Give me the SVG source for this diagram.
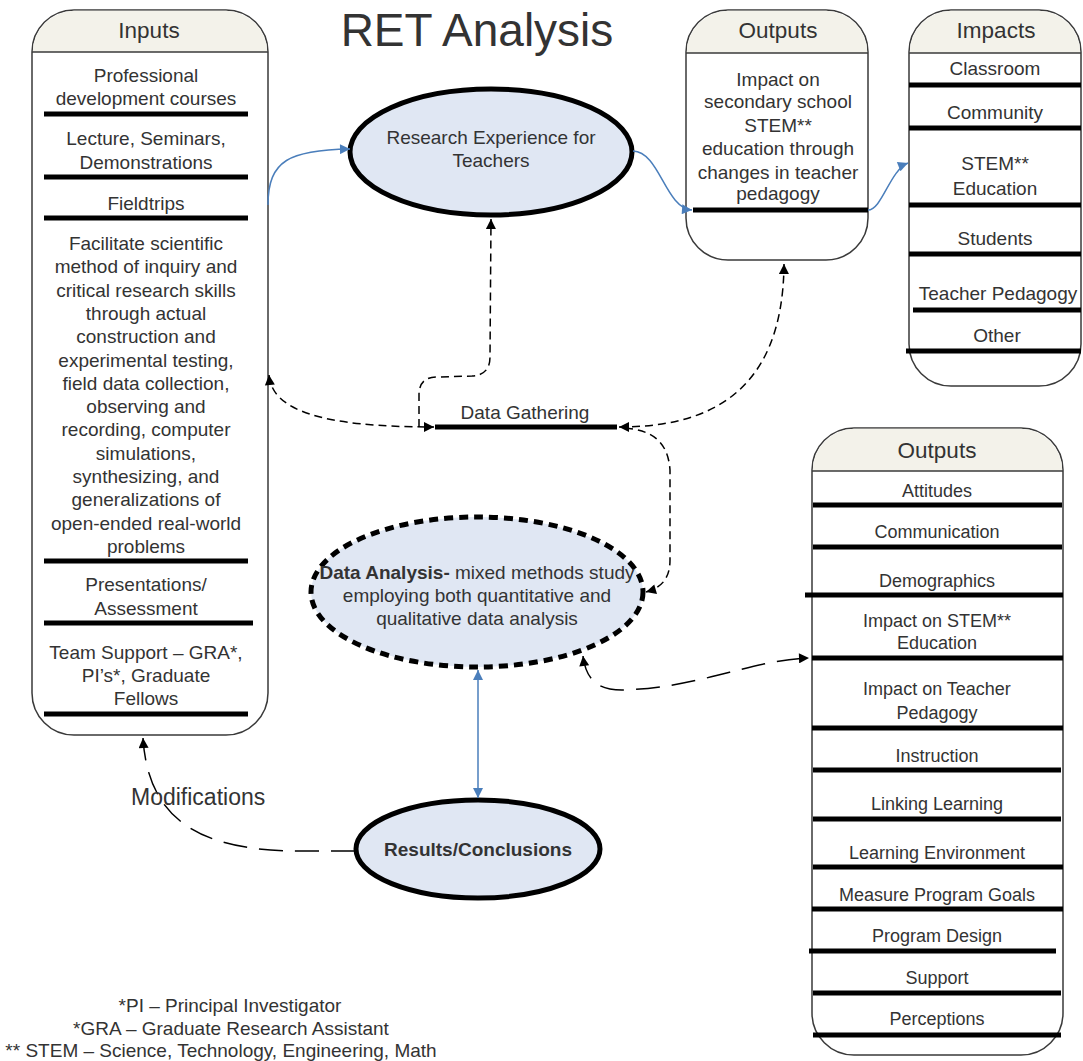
<svg xmlns="http://www.w3.org/2000/svg" width="1083" height="1061" viewBox="0 0 1083 1061">
<defs>
<style>
text{font-family:"Liberation Sans",Arial,sans-serif;fill:#333;font-size:19px;text-anchor:middle}
.ttl{font-size:22.5px}
.box{fill:#fff;stroke:#3a3a3a;stroke-width:1.5}
.hdr{fill:#f3f2ea;stroke:none}
.sep{stroke:#3a3a3a;stroke-width:1.5}
.bar{stroke:#000;stroke-width:5}
.ell{fill:#e0e7f3;stroke:#000;stroke-width:5}
.blue{fill:none;stroke:#4a7ebb;stroke-width:1.5}
.dsh{fill:none;stroke:#000;stroke-width:1.5;stroke-dasharray:8 5}
.ldsh{fill:none;stroke:#000;stroke-width:1.5;stroke-dasharray:24 12}
</style>
<marker id="ab" viewBox="0 0 10 10" refX="10" refY="5" markerWidth="13" markerHeight="10" markerUnits="userSpaceOnUse" orient="auto-start-reverse"><path d="M0,0 L10,5 L0,10 z" fill="#000"/></marker>
<marker id="abl" viewBox="0 0 10 10" refX="10" refY="5" markerWidth="14" markerHeight="10" markerUnits="userSpaceOnUse" orient="auto-start-reverse"><path d="M0,0 L10,5 L0,10 z" fill="#4a7ebb"/></marker>
</defs>
<rect width="1083" height="1061" fill="#fff"/>

<text x="477" y="46" style="font-size:46px">RET Analysis</text>

<g id="inputs">
<path class="box" d="M32,52 L32,693 A42,42 0 0 0 74,735 L226,735 A42,42 0 0 0 268,693 L268,52 A42,42 0 0 0 226,10 L74,10 A42,42 0 0 0 32,52 Z"/>
<path class="hdr" d="M32.8,52 A42,42 0 0 1 74,10.8 L226,10.8 A42,42 0 0 1 267.2,52 Z"/>
<line class="sep" x1="32" y1="52" x2="268" y2="52"/>
<text class="ttl" x="149" y="38">Inputs</text>
<text x="146" y="82">Professional</text>
<text x="146" y="105">development courses</text>
<line class="bar" x1="44" y1="114" x2="248" y2="114"/>
<text x="146" y="145">Lecture, Seminars,</text>
<text x="146" y="169">Demonstrations</text>
<line class="bar" x1="44" y1="177" x2="248" y2="177"/>
<text x="146" y="210">Fieldtrips</text>
<line class="bar" x1="44" y1="218" x2="248" y2="218"/>
<text x="146" y="250">Facilitate scientific</text>
<text x="146" y="273">method of inquiry and</text>
<text x="146" y="297">critical research skills</text>
<text x="146" y="320">through actual</text>
<text x="146" y="343">construction and</text>
<text x="146" y="367">experimental testing,</text>
<text x="146" y="390">field data collection,</text>
<text x="146" y="413">observing and</text>
<text x="146" y="436">recording, computer</text>
<text x="146" y="460">simulations,</text>
<text x="146" y="483">synthesizing, and</text>
<text x="146" y="506">generalizations of</text>
<text x="146" y="530">open-ended real-world</text>
<text x="146" y="553">problems</text>
<line class="bar" x1="44" y1="561" x2="248" y2="561"/>
<text x="146" y="591">Presentations/</text>
<text x="146" y="615">Assessment</text>
<line class="bar" x1="44" y1="623" x2="253" y2="623"/>
<text x="146" y="659">Team Support – GRA*,</text>
<text x="146" y="682">PI’s*, Graduate</text>
<text x="146" y="705">Fellows</text>
<line class="bar" x1="44" y1="714" x2="248" y2="714"/>
</g>

<g id="research">
<ellipse class="ell" cx="491" cy="152" rx="141" ry="63"/>
<text x="491" y="144">Research Experience for</text>
<text x="491" y="167">Teachers</text>
</g>

<g id="outputs-top">
<path class="box" d="M686,52 L686,218 A42,42 0 0 0 728,260 L826,260 A42,42 0 0 0 868,218 L868,52 A42,42 0 0 0 826,10 L728,10 A42,42 0 0 0 686,52 Z"/>
<path class="hdr" d="M686.8,53 A42,42 0 0 1 728,10.8 L826,10.8 A42,42 0 0 1 867.2,53 Z"/>
<line class="sep" x1="686" y1="53" x2="868" y2="53"/>
<text class="ttl" x="778" y="38">Outputs</text>
<text x="778" y="86">Impact on</text>
<text x="778" y="108">secondary school</text>
<text x="778" y="132">STEM**</text>
<text x="778" y="155">education through</text>
<text x="778" y="179">changes in teacher</text>
<text x="778" y="200">pedagogy</text>
<line class="bar" x1="693" y1="210" x2="868" y2="210"/>
</g>

<g id="impacts">
<path class="box" d="M909,52 L909,344 A42,42 0 0 0 951,386 L1039,386 A42,42 0 0 0 1081,344 L1081,52 A42,42 0 0 0 1039,10 L951,10 A42,42 0 0 0 909,52 Z"/>
<path class="hdr" d="M909.8,53 A42,42 0 0 1 951,10.8 L1039,10.8 A42,42 0 0 1 1080.2,53 Z"/>
<line class="sep" x1="909" y1="53" x2="1081" y2="53"/>
<text class="ttl" x="996" y="38">Impacts</text>
<text x="995" y="75">Classroom</text>
<line class="bar" x1="909" y1="85" x2="1081" y2="85"/>
<text x="995" y="119">Community</text>
<line class="bar" x1="909" y1="128" x2="1081" y2="128"/>
<text x="995" y="170">STEM**</text>
<text x="995" y="195">Education</text>
<line class="bar" x1="909" y1="205" x2="1081" y2="205"/>
<text x="995" y="245">Students</text>
<line class="bar" x1="909" y1="254" x2="1081" y2="254"/>
<text x="998" y="300">Teacher Pedagogy</text>
<line class="bar" x1="913" y1="310" x2="1081" y2="310"/>
<text x="997" y="342">Other</text>
<line class="bar" x1="906" y1="351" x2="1081" y2="351"/>
</g>

<g id="data-gathering">
<text x="525" y="419">Data Gathering</text>
<line class="bar" x1="435" y1="427" x2="617" y2="427"/>
</g>

<g id="data-analysis">
<ellipse cx="477" cy="592" rx="166" ry="75" fill="#e0e7f3" stroke="#000" stroke-width="5" stroke-dasharray="9 6"/>
<text x="477" y="579"><tspan font-weight="bold">Data Analysis-</tspan> mixed methods study</text>
<text x="477" y="602">employing both quantitative and</text>
<text x="477" y="625">qualitative data analysis</text>
</g>

<g id="results">
<ellipse class="ell" cx="478" cy="849" rx="122" ry="49"/>
<text x="478" y="856" font-weight="bold">Results/Conclusions</text>
</g>

<g id="outputs-bottom">
<path class="box" d="M812,470 L812,1013 A42,42 0 0 0 854,1055 L1021,1055 A42,42 0 0 0 1063,1013 L1063,470 A42,42 0 0 0 1021,428 L854,428 A42,42 0 0 0 812,470 Z"/>
<path class="hdr" d="M812.8,471 A42,42 0 0 1 854,428.8 L1021,428.8 A42,42 0 0 1 1062.2,471 Z"/>
<line class="sep" x1="812" y1="471" x2="1063" y2="471"/>
<text class="ttl" x="937" y="458">Outputs</text>
<text x="937" y="497" style="font-size:18px">Attitudes</text>
<line class="bar" x1="813" y1="505" x2="1062" y2="505"/>
<text x="937" y="538" style="font-size:18px">Communication</text>
<line class="bar" x1="813" y1="547" x2="1062" y2="547"/>
<text x="937" y="587" style="font-size:18px">Demographics</text>
<line class="bar" x1="805" y1="595" x2="1063" y2="595"/>
<text x="937" y="627" style="font-size:18px">Impact on STEM**</text>
<text x="937" y="649" style="font-size:18px">Education</text>
<line class="bar" x1="812" y1="658" x2="1063" y2="658"/>
<text x="937" y="695" style="font-size:18px">Impact on Teacher</text>
<text x="937" y="719" style="font-size:18px">Pedagogy</text>
<line class="bar" x1="812" y1="728" x2="1063" y2="728"/>
<text x="937" y="762" style="font-size:18px">Instruction</text>
<line class="bar" x1="813" y1="770" x2="1061" y2="770"/>
<text x="937" y="810" style="font-size:18px">Linking Learning</text>
<line class="bar" x1="813" y1="819" x2="1061" y2="819"/>
<text x="937" y="859" style="font-size:18px">Learning Environment</text>
<line class="bar" x1="813" y1="867" x2="1063" y2="867"/>
<text x="937" y="901" style="font-size:18px">Measure Program Goals</text>
<line class="bar" x1="812" y1="909" x2="1063" y2="909"/>
<text x="937" y="942" style="font-size:18px">Program Design</text>
<line class="bar" x1="809" y1="951" x2="1056" y2="951"/>
<text x="937" y="984" style="font-size:18px">Support</text>
<line class="bar" x1="813" y1="993" x2="1061" y2="993"/>
<text x="937" y="1025" style="font-size:18px">Perceptions</text>
<line class="bar" x1="813" y1="1035" x2="1061" y2="1035"/>
</g>

<g id="connectors">
<path class="blue" d="M268,205 C268,160 290,150 350,149" marker-end="url(#abl)"/>
<path class="blue" d="M633,151 C660,152 665,208 692,210" marker-end="url(#abl)"/>
<path class="blue" d="M868,210 C882,210 890,170 908,163" marker-end="url(#abl)"/>
<path class="blue" d="M478,670 L478,798" marker-start="url(#abl)" marker-end="url(#abl)"/>
<path class="dsh" d="M269,375 C272,410 320,427 434,427" marker-start="url(#ab)" marker-end="url(#ab)"/>
<path class="dsh" d="M419,427 L419,395 Q419,377 437,377 L472,376 Q490,375 490,357 L491,219" marker-end="url(#ab)"/>
<path class="dsh" d="M619,427 C700,427 783,400 784,264" marker-start="url(#ab)" marker-end="url(#ab)"/>
<path class="dsh" d="M625,428 C650,430 668,440 670,470 L670,560 C670,580 660,588 646,592" marker-end="url(#ab)"/>
<path class="ldsh" d="M355,851 L300,851 C200,851 148,820 143,738" marker-end="url(#ab)"/>
<path class="ldsh" d="M583,656 C586,680 598,690 622,690 C700,688 750,660 809,658" marker-start="url(#ab)" marker-end="url(#ab)"/>
</g>

<text x="131" y="805" style="font-size:23px;text-anchor:start">Modifications</text>

<g id="footnotes">
<text x="230" y="1012">*PI – Principal Investigator</text>
<text x="231" y="1035">*GRA – Graduate Research Assistant</text>
<text x="221" y="1057">** STEM – Science, Technology, Engineering, Math</text>
</g>
</svg>
